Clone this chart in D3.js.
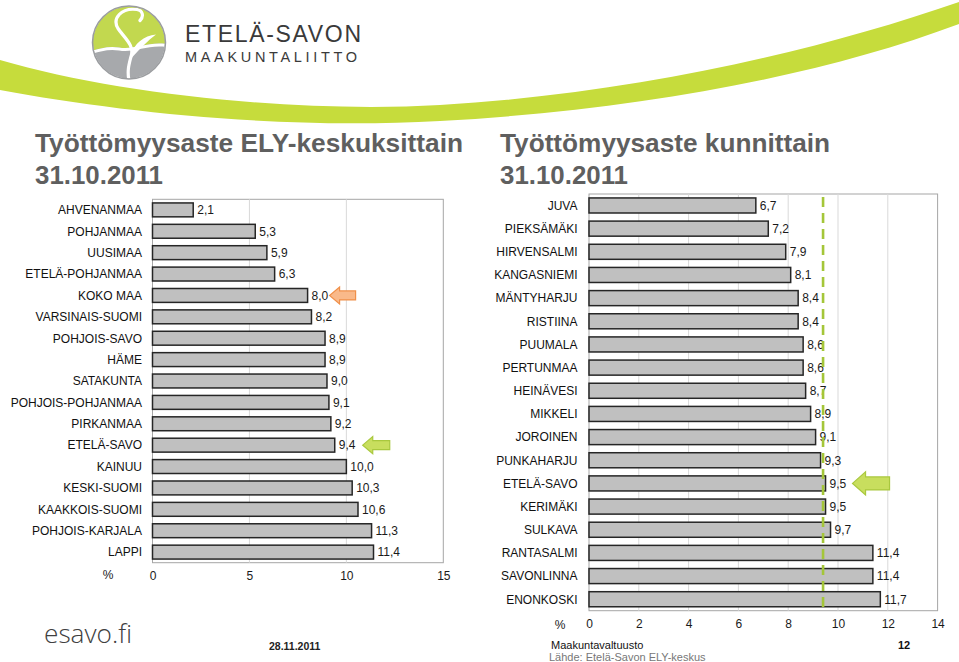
<!DOCTYPE html>
<html><head><meta charset="utf-8">
<script src="https://cdn.jsdelivr.net/npm/d3@7/dist/d3.min.js"></script>
<style>
html,body{margin:0;padding:0;background:#fff;}
svg{display:block;font-family:"Liberation Sans",Arial,sans-serif;}
</style></head>
<body>
<svg id="c" width="959" height="662"></svg>
<script>
// ---------- DATA ----------
const elyCategories = ["AHVENANMAA","POHJANMAA","UUSIMAA","ETELÄ-POHJANMAA","KOKO MAA","VARSINAIS-SUOMI","POHJOIS-SAVO","HÄME","SATAKUNTA","POHJOIS-POHJANMAA","PIRKANMAA","ETELÄ-SAVO","KAINUU","KESKI-SUOMI","KAAKKOIS-SUOMI","POHJOIS-KARJALA","LAPPI"];
const elyValues = [2.1,5.3,5.9,6.3,8.0,8.2,8.9,8.9,9.0,9.1,9.2,9.4,10.0,10.3,10.6,11.3,11.4];
const elyTicks = [0,5,10,15];

const kuntaCategories = ["JUVA","PIEKSÄMÄKI","HIRVENSALMI","KANGASNIEMI","MÄNTYHARJU","RISTIINA","PUUMALA","PERTUNMAA","HEINÄVESI","MIKKELI","JOROINEN","PUNKAHARJU","ETELÄ-SAVO","KERIMÄKI","SULKAVA","RANTASALMI","SAVONLINNA","ENONKOSKI"];
const kuntaValues = [6.7,7.2,7.9,8.1,8.4,8.4,8.6,8.6,8.7,8.9,9.1,9.3,9.5,9.5,9.7,11.4,11.4,11.7];
const kuntaTicks = [0,2,4,6,8,10,12,14];
const kuntaReference = 9.4;

const titles = ["Työttömyysaste ELY-keskuksittain","Työttömyysaste kunnittain"];
const dateText = "31.10.2011";

// ---------- DRAW ----------
const svg = d3.select("#c");
const fmt = v => d3.format(".1f")(v).replace(".", ",");

// header swoosh
svg.append("path")
  .attr("d","M0,60 C120,95 300,113 440,105 C640,93 820,50 959,2 L959,24 C820,76 640,110 440,121 C280,130 120,112 0,90 Z")
  .attr("fill","#c6dc3c");

// logo
const logo = svg.append("g").attr("transform","translate(129,42.5)");
logo.append("clipPath").attr("id","lc").append("circle").attr("r",36);
const lg = logo.append("g").attr("clip-path","url(#lc)");
lg.append("rect").attr("x",-40).attr("y",-40).attr("width",80).attr("height",80).attr("fill","#a7a9ac");
lg.append("path").attr("d","M-40,-40 H40 V2 C20,-2 5,8 -10,5 C-22,3 -32,7 -40,9 Z").attr("fill","#c2d84f");
lg.append("path").attr("d","M-40,9 C-32,7 -22,3 -10,5 C5,8 20,-2 40,2 L40,5 C20,1 5,11 -10,8 C-22,6 -32,10 -40,12 Z").attr("fill","#fff");
lg.append("path").attr("d","M8,-33 C-8,-35 -17,-24 -11,-14 C-5,-5 6,3 2,14 C0,22 -2,28 0,38 M8,-33 C14,-32 15,-26 11,-22")
  .attr("fill","none").attr("stroke","#fff").attr("stroke-width",3.2).attr("stroke-linecap","round");
lg.append("path").attr("d","M2,13 C5,1 15,-7 27,-8 C19,-2 11,6 3,15 Z").attr("fill","#fff");
logo.append("circle").attr("r",36.5).attr("fill","none").attr("stroke","#9a9c9f").attr("stroke-width",1.5);

svg.append("text").attr("x",185).attr("y",41.5).attr("font-family","'Liberation Sans',Arial,sans-serif")
  .attr("font-size",23).attr("fill","#3a3a3a").attr("textLength",176).attr("lengthAdjust","spacing").text("ETELÄ-SAVON");
svg.append("text").attr("x",185).attr("y",61.5).attr("font-family","'Liberation Sans',Arial,sans-serif")
  .attr("font-size",14.5).attr("fill","#3a3a3a").attr("textLength",172).attr("lengthAdjust","spacing").text("MAAKUNTALIITTO");

// titles
svg.append("text").attr("x",35).attr("y",152).attr("font-size",25).attr("font-weight","bold").attr("fill","#5f5f5f")
  .attr("textLength",428).attr("lengthAdjust","spacingAndGlyphs").text(titles[0]);
svg.append("text").attr("x",35).attr("y",184).attr("font-size",25).attr("font-weight","bold").attr("fill","#5f5f5f")
  .attr("textLength",128).attr("lengthAdjust","spacingAndGlyphs").text(dateText);
svg.append("text").attr("x",500).attr("y",152).attr("font-size",25).attr("font-weight","bold").attr("fill","#5f5f5f")
  .attr("textLength",330).attr("lengthAdjust","spacingAndGlyphs").text(titles[1]);
svg.append("text").attr("x",500).attr("y",184).attr("font-size",25).attr("font-weight","bold").attr("fill","#5f5f5f")
  .attr("textLength",128).attr("lengthAdjust","spacingAndGlyphs").text(dateText);

function arrow(g, tipX, cy, len, headLen, bodyH, headH, fill, stroke){
  const p = d3.path();
  p.moveTo(tipX, cy);
  p.lineTo(tipX+headLen, cy-headH);
  p.lineTo(tipX+headLen, cy-bodyH);
  p.lineTo(tipX+len, cy-bodyH);
  p.lineTo(tipX+len, cy+bodyH);
  p.lineTo(tipX+headLen, cy+bodyH);
  p.lineTo(tipX+headLen, cy+headH);
  p.closePath();
  g.append("path").attr("d",p.toString()).attr("fill",fill).attr("stroke",stroke).attr("stroke-width",1.2);
}

function barChart(opts){
  const {cats, vals, ticks, domain, x0, x1, y0, y1, labelX, pctX, pctY} = opts;
  const g = svg.append("g");
  const x = d3.scaleLinear().domain(domain).range([x0,x1]);
  const y = d3.scaleBand().domain(cats).range([y0,y1]).paddingInner(0.35).paddingOuter(0.17);
  g.append("rect").attr("x",x0).attr("y",y0).attr("width",x1-x0).attr("height",y1-y0)
    .attr("fill","#fff").attr("stroke","#a6a6a6").attr("stroke-width",1);
  g.selectAll("line.grid").data(ticks.slice(1,-1)).join("line")
    .attr("x1",d=>x(d)).attr("x2",d=>x(d)).attr("y1",y0).attr("y2",y1)
    .attr("stroke","#d9d9d9").attr("stroke-width",1);
  g.selectAll("rect.bar").data(vals).join("rect")
    .attr("x",x(0)).attr("y",(d,i)=>y(cats[i])).attr("width",d=>x(d)-x(0)).attr("height",y.bandwidth())
    .attr("fill","#c0c0c0").attr("stroke","#262626").attr("stroke-width",1.5);
  g.selectAll("text.val").data(vals).join("text")
    .attr("x",d=>x(d)+4).attr("y",(d,i)=>y(cats[i])+y.bandwidth()/2).attr("dy","0.36em")
    .attr("font-size",12).attr("fill","#1a1a1a").text(d=>fmt(d));
  g.selectAll("text.cat").data(cats).join("text")
    .attr("x",labelX).attr("y",d=>y(d)+y.bandwidth()/2).attr("dy","0.36em").attr("text-anchor","end")
    .attr("font-size",12).attr("fill","#111").text(d=>d);
  const ax = g.append("g").attr("transform",`translate(0,${y1})`)
    .call(d3.axisBottom(x).tickValues(ticks).tickSize(0).tickPadding(9).tickFormat(d3.format("d")));
  ax.select(".domain").remove();
  ax.selectAll("text").attr("font-size",12).attr("font-family","'Liberation Sans',Arial,sans-serif").attr("fill","#1a1a1a");
  g.append("text").attr("x",pctX).attr("y",pctY).attr("dy","0.36em").attr("text-anchor","middle")
    .attr("font-size",12).attr("fill","#1a1a1a").text("%");
  return {g,x,y};
}

const left = barChart({cats:elyCategories, vals:elyValues, ticks:elyTicks, domain:[0,15],
  x0:152.5, x1:443.3, y0:199.3, y1:562.7, labelX:142, pctX:108, pctY:575});
const right = barChart({cats:kuntaCategories, vals:kuntaValues, ticks:kuntaTicks, domain:[0,14],
  x0:589, x1:937.6, y0:194, y1:610.7, labelX:577.5, pctX:560, pctY:625});

right.g.append("line").attr("x1",right.x(kuntaReference)).attr("x2",right.x(kuntaReference))
  .attr("y1",197).attr("y2",612).attr("stroke","#a4c639").attr("stroke-width",2.6).attr("stroke-dasharray","10,6");

const lyK = left.y("KOKO MAA")+left.y.bandwidth()/2;
arrow(svg, left.x(8.0)+22, lyK, 26, 10, 4.5, 8.5, "#f9b98a", "#f0904a");
const lyE = left.y("ETELÄ-SAVO")+left.y.bandwidth()/2;
arrow(svg, left.x(9.4)+28, lyE, 27, 10, 4.5, 8.5, "#c8de5e", "#a9c83e");
const ryE = right.y("ETELÄ-SAVO")+right.y.bandwidth()/2;
arrow(svg, right.x(9.5)+27, ryE, 37, 13, 6.5, 11.5, "#c8de5e", "#a9c83e");

svg.append("text").attr("x",44).attr("y",643).attr("font-family","'Open Sans',sans-serif").attr("font-weight",300)
  .attr("font-size",26).attr("fill","#404040").attr("textLength",88).attr("lengthAdjust","spacingAndGlyphs").text("esavo.fi");
svg.append("text").attr("x",269).attr("y",650).attr("font-size",10.5).attr("font-weight","bold").attr("fill","#222").text("28.11.2011");
svg.append("text").attr("x",551).attr("y",649).attr("font-size",11).attr("fill","#111").text("Maakuntavaltuusto");
svg.append("text").attr("x",549).attr("y",661).attr("font-size",11).attr("fill","#777").text("Lähde: Etelä-Savon ELY-keskus");
svg.append("text").attr("x",898).attr("y",649).attr("font-size",11).attr("font-weight","bold").attr("fill","#111").text("12");
</script>
</body></html>
